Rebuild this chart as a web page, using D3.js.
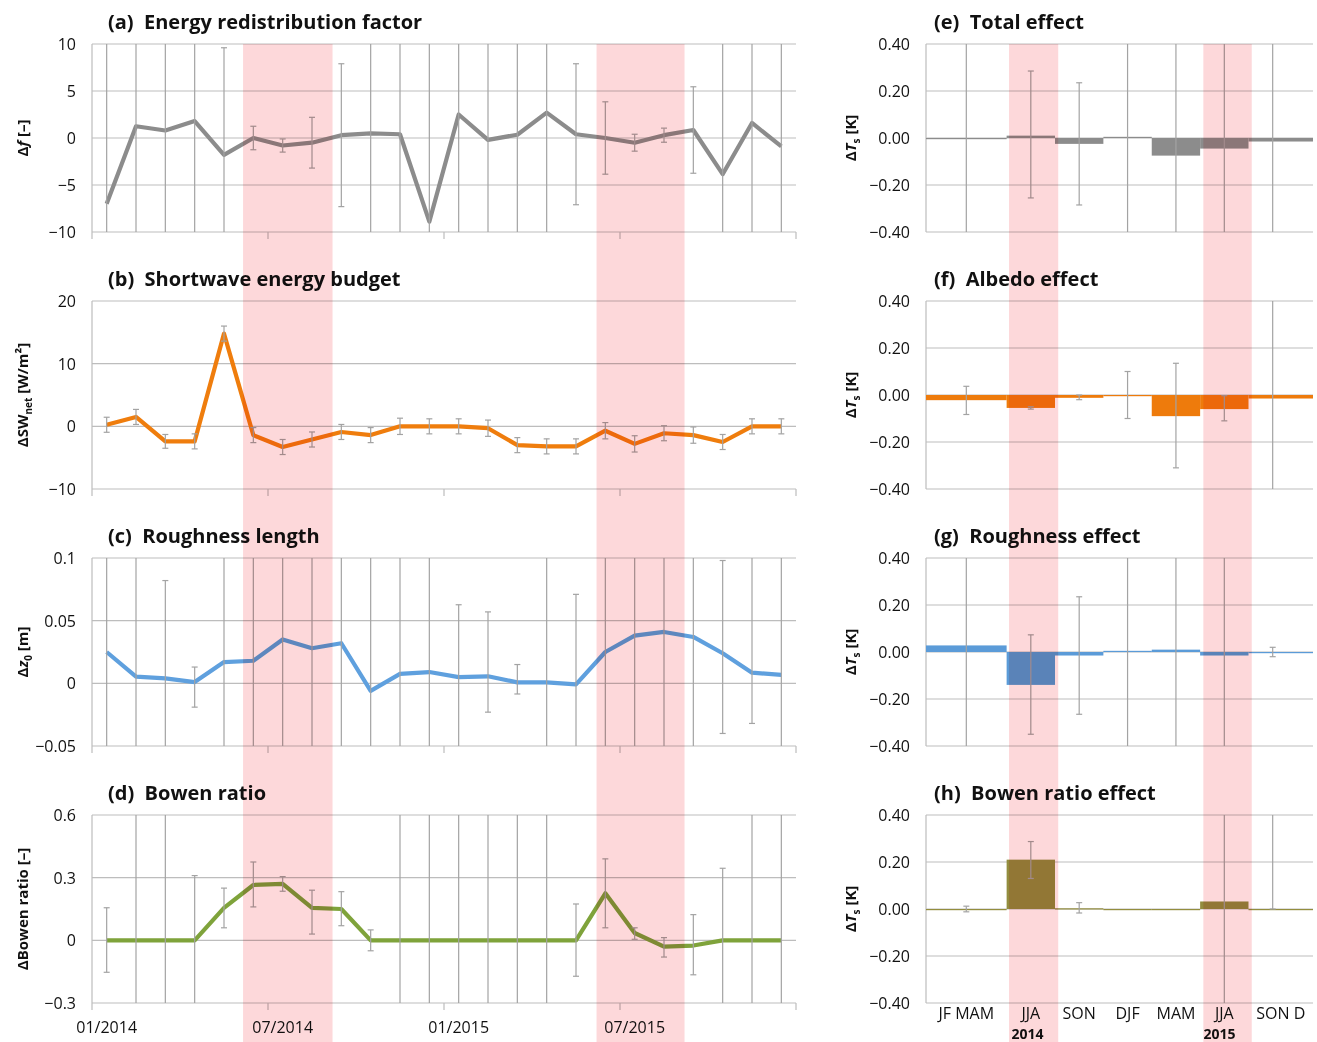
<!DOCTYPE html>
<html>
<head>
<meta charset="utf-8">
<script src="https://cdn.jsdelivr.net/npm/d3@7"></script>
<style>
  body { margin: 0; background: #fff; }
  svg { font-family: "Open Sans", Lato, sans-serif; }
</style>
</head>
<body>
<svg id="chart" width="1317" height="1042"></svg>
<script>
// ---- data: 24 monthly values, Jan 2014 .. Dec 2015 ----
const fVal = [-7.0, 1.25, 0.8, 1.8, -1.8, 0, -0.8, -0.5, 0.3, 0.5, 0.4, -8.9,
              2.5, -0.2, 0.35, 2.7, 0.4, 0, -0.5, 0.3, 0.85, -3.85, 1.6, -0.9];
const fErr = [30, 30, 30, 30, 11.4, 1.25, 0.7, 2.7, 7.6, 30, 30, 30,
              30, 30, 30, 30, 7.5, 3.85, 0.9, 0.75, 4.6, 30, 30, 30];

const swVal = [0.25, 1.5, -2.4, -2.4, 14.8, -1.4, -3.3, -2.1, -0.9, -1.4, 0, 0,
               0, -0.3, -3.0, -3.2, -3.2, -0.7, -2.8, -1.1, -1.4, -2.5, 0, 0];
const swErr = [1.2, 1.2, 1.1, 1.2, 1.2, 1.2, 1.2, 1.2, 1.2, 1.2, 1.3, 1.2,
               1.2, 1.3, 1.2, 1.2, 1.2, 1.3, 1.3, 1.2, 1.3, 1.2, 1.2, 1.2];

const z0Val = [0.025, 0.0053, 0.004, 0.001, 0.017, 0.018, 0.035, 0.028, 0.032, -0.006, 0.0075, 0.009,
               0.005, 0.0056, 0.0008, 0.0008, -0.0008, 0.025, 0.038, 0.041, 0.037, 0.024, 0.0085, 0.0067];
const z0Lo = [-1, -1, -0.074, -0.019, -1, -1, -1, -1, -1, -1, -1, -1,
              -0.053, -0.023, -0.0085, -1, -1, -1, -1, -1, -1, -0.04, -0.032, -1];
const z0Hi = [1, 1, 0.082, 0.013, 1, 1, 1, 1, 1, 1, 1, 1,
              0.0627, 0.057, 0.015, 1, 0.071, 1, 1, 1, 1, 0.098, 1, 1];

const brVal = [0, 0, 0, 0, 0.155, 0.265, 0.27, 0.155, 0.15, 0, 0, 0,
               0, 0, 0, 0, 0, 0.225, 0.035, -0.03, -0.025, 0, 0, 0];
const brLo = [-0.153, -1, -1, -1, 0.06, 0.16, 0.235, 0.03, 0.07, -0.05, -1, -1,
              -1, -1, -1, -1, -0.172, 0.06, 0.005, -0.08, -0.165, -1, -1, -1];
const brHi = [0.156, 1, 1, 0.31, 0.25, 0.375, 0.305, 0.24, 0.233, 0.05, 1, 1,
              1, 1, 1, 1, 0.174, 0.39, 0.06, 0.013, 0.123, 0.345, 1, 1];

// ---- seasonal effects (month spans from Jan 2014) ----
const seasonStart = [0, 5, 8, 11, 14, 17, 20];
const seasonEnd   = [5, 8, 11, 14, 17, 20, 24];
const seasonLabels = ["JF MAM", "JJA", "SON", "DJF", "MAM", "JJA", "SON D"];
const seasonLabelPos = [2.5, 6.5, 9.5, 12.5, 15.5, 18.5, 22];
const seasonErrPos = [2.5, 6.5, 9.5, 12.5, 15.5, 18.5, 21.5];

const totVal = [0, 0.01, -0.025, 0.005, -0.075, -0.045, -0.015];
const totLo = [-1, -0.255, -0.285, -1, -1, -1, -1];
const totHi = [1, 0.285, 0.235, 1, 1, 1, 1];

const albVal = [-0.022, -0.055, -0.012, -0.003, -0.09, -0.06, -0.015];
const albLo = [-0.083, -0.06, -0.02, -0.1, -0.31, -0.11, -1];
const albHi = [0.037, -0.05, 0, 0.1, 0.135, -0.003, 1];

const rouVal = [0.028, -0.14, -0.015, 0.005, 0.01, -0.015, -0.002];
const rouLo = [-1, -0.35, -0.265, -1, -1, -1, -0.02];
const rouHi = [1, 0.073, 0.235, 1, 1, 1, 0.02];

const bowVal = [0, 0.21, 0.003, 0, 0, 0.032, 0];
const bowLo = [-0.012, 0.13, -0.017, null, null, -1, 0];
const bowHi = [0.012, 0.287, 0.027, null, null, 1, 1];

const summers = [[5.15, 8.2], [17.2, 20.2]];
const monthTicks = [0, 6, 12, 18];
const monthTickLabels = ["01/2014", "07/2014", "01/2015", "07/2015"];

const svg = d3.select("#chart");
const grid = "#bdbdbd", errC = "#a3a3a3", pink = "rgb(253,216,218)";
let uid = 0;
const shadeX = [];

function panel(o) {
  const x = d3.scaleLinear().domain([0, 24]).range([o.x0, o.x1]);
  const y = d3.scaleLinear().domain(o.dom).range([o.y1, o.y0]);
  const g = svg.append("g");
  const cid = "clip" + (uid++);
  svg.append("clipPath").attr("id", cid).append("rect")
    .attr("x", o.x0).attr("y", o.y0).attr("width", o.x1 - o.x0).attr("height", o.y1 - o.y0);

  g.selectAll(".gl").data(o.ticks).join("line")
    .attr("x1", o.x0).attr("x2", o.x1).attr("y1", d => y(d)).attr("y2", d => y(d))
    .attr("stroke", grid).attr("stroke-width", 1.2);
  g.append("line").attr("x1", o.x0).attr("x2", o.x0).attr("y1", o.y0).attr("y2", o.y1)
    .attr("stroke", grid).attr("stroke-width", 1.2);
  g.selectAll(".tl").data(o.ticks).join("text")
    .attr("x", o.x0 - 16).attr("y", d => y(d) + 6).attr("text-anchor", "end")
    .attr("font-size", 16).attr("fill", "#111").text(o.fmt);

  const body = g.append("g").attr("clip-path", `url(#${cid})`);
  o.draw(body, x, y);

  const eb = body.append("g").attr("stroke", errC).attr("stroke-width", 1.2);
  o.err.forEach(e => {
    if (e.lo == null) return;
    const xx = x(e.x);
    eb.append("line").attr("x1", xx).attr("x2", xx).attr("y1", y(e.lo)).attr("y2", y(e.hi));
    [e.lo, e.hi].forEach(v => {
      if (v > o.dom[0] && v < o.dom[1])
        eb.append("line").attr("x1", xx - 3).attr("x2", xx + 3).attr("y1", y(v)).attr("y2", y(v));
    });
  });

  g.append("text").attr("x", o.tx).attr("y", o.y0 - 15)
    .attr("font-size", 20).attr("font-weight", "bold").attr("fill", "#111")
    .attr("xml:space", "preserve").text(o.title);

  const yl = g.append("text").attr("transform", `translate(${o.x0 - (o.left ? 64 : 70)},${(o.y0 + o.y1) / 2}) rotate(-90)`)
    .attr("text-anchor", "middle").attr("font-size", 15).attr("font-weight", "bold").attr("fill", "#111");
  o.ylab(yl);
  if (o.y0 === 44) shadeX.push(x);
  return { x, y, g };
}

function leftPanel(y0, dom, ticks, title, vals, lo, hi, color, ylab, fmt, bottom) {
  const p = panel({
    x0: 92, x1: 796, y0, y1: y0 + 188, dom, ticks, title, tx: 108, fmt, ylab, left: true,
    err: vals.map((v, i) => ({ x: i + 0.5, lo: lo[i], hi: hi[i] })),
    draw: (b, x, y) => {
      b.append("path").datum(vals)
        .attr("d", d3.line().x((d, i) => x(i + 0.5)).y(d => y(d)))
        .attr("fill", "none").attr("stroke", color).attr("stroke-width", 4.2)
        .attr("stroke-linejoin", "round");
    }
  });
  p.g.selectAll(".mt").data([0, 6, 12, 18, 24]).join("line")
    .attr("x1", d => p.x(d)).attr("x2", d => p.x(d)).attr("y1", y0 + 188).attr("y2", y0 + 195)
    .attr("stroke", grid).attr("stroke-width", 1.2);
  if (bottom) {
    p.g.selectAll(".ml").data(monthTicks).join("text")
      .attr("x", d => p.x(d + 0.5)).attr("y", y0 + 218).attr("text-anchor", "middle")
      .attr("font-size", 16).attr("fill", "#111").text((d, i) => monthTickLabels[i]);
  }
}

function rightPanel(y0, title, vals, lo, hi, color, bottom) {
  const p = panel({
    x0: 926, x1: 1313, y0, y1: y0 + 188, dom: [-0.4, 0.4], ticks: [-0.4, -0.2, 0, 0.2, 0.4],
    title, tx: 934, fmt: d => d3.format(".2f")(d).replace("-", "\u2212"),
    err: vals.map((v, i) => ({ x: seasonErrPos[i], lo: lo[i], hi: hi[i] })),
    ylab: t => {
      t.append("tspan").text("\u0394");
      t.append("tspan").attr("font-style", "italic").text("T");
      t.append("tspan").attr("font-size", 10).attr("dy", 4).text("s");
      t.append("tspan").attr("dy", -4).text(" [K]");
    },
    draw: (b, x, y) => {
      b.selectAll("rect").data(vals).join("rect")
        .attr("x", (d, i) => x(seasonStart[i])).attr("width", (d, i) => x(seasonEnd[i]) - x(seasonStart[i]))
        .attr("y", d => y(Math.max(0, d))).attr("height", d => Math.max(Math.abs(y(d) - y(0)), 1.2))
        .attr("fill", color);
    }
  });
  if (bottom) {
    p.g.selectAll(".sl").data(seasonLabels).join("text")
      .attr("x", (d, i) => p.x(seasonLabelPos[i])).attr("y", y0 + 204).attr("text-anchor", "middle")
      .attr("font-size", 16).attr("fill", "#111").text(d => d);
    p.g.selectAll(".yr").data([["2014", 6.3], ["2015", 18.2]]).join("text")
      .attr("x", d => p.x(d[1])).attr("y", y0 + 224).attr("text-anchor", "middle")
      .attr("font-size", 14).attr("font-weight", "bold").attr("fill", "#111").text(d => d[0]);
  }
}

const minus = s => String(s).replace("-", "\u2212");
leftPanel(44, [-10, 10], [-10, -5, 0, 5, 10], "(a)  Energy redistribution factor",
  fVal, fVal.map((v, i) => v - fErr[i]), fVal.map((v, i) => v + fErr[i]), "#8c8c8c",
  t => { t.append("tspan").text("\u0394"); t.append("tspan").attr("font-style", "italic").text("f"); t.append("tspan").text(" [\u2013]"); },
  d => minus(d));
leftPanel(301, [-10, 20], [-10, 0, 10, 20], "(b)  Shortwave energy budget",
  swVal, swVal.map((v, i) => v - swErr[i]), swVal.map((v, i) => v + swErr[i]), "#ef7d0d",
  t => { t.append("tspan").text("\u0394SW"); t.append("tspan").attr("font-size", 10).attr("dy", 4).text("net");
         t.append("tspan").attr("dy", -4).text(" [W/m\u00b2]"); },
  d => minus(d));
leftPanel(558, [-0.05, 0.1], [-0.05, 0, 0.05, 0.1], "(c)  Roughness length",
  z0Val, z0Lo, z0Hi, "#5fa0de",
  t => { t.append("tspan").text("\u0394"); t.append("tspan").attr("font-style", "italic").text("z");
         t.append("tspan").attr("font-size", 10).attr("dy", 4).text("0"); t.append("tspan").attr("dy", -4).text(" [m]"); },
  d => minus(d));
leftPanel(815, [-0.3, 0.6], [-0.3, 0, 0.3, 0.6], "(d)  Bowen ratio",
  brVal, brLo, brHi, "#7fa33b",
  t => t.text("\u0394Bowen ratio [\u2013]"),
  d => minus(d), true);

rightPanel(44, "(e)  Total effect", totVal, totLo, totHi, "#8c8c8c");
rightPanel(301, "(f)  Albedo effect", albVal, albLo, albHi, "#ee7b0c");
rightPanel(558, "(g)  Roughness effect", rouVal, rouLo, rouHi, "#5b9bd8");
rightPanel(815, "(h)  Bowen ratio effect", bowVal, bowLo, bowHi, "#938d3e", true);

// summer shading: continuous columns, multiplied over everything below
shadeX.forEach(x => {
  svg.append("g").selectAll("rect").data(summers).join("rect")
    .attr("x", d => x(d[0])).attr("width", d => x(d[1]) - x(d[0]))
    .attr("y", 44).attr("height", 1042 - 44)
    .attr("fill", pink).style("mix-blend-mode", "multiply");
});
</script>
</body>
</html>
